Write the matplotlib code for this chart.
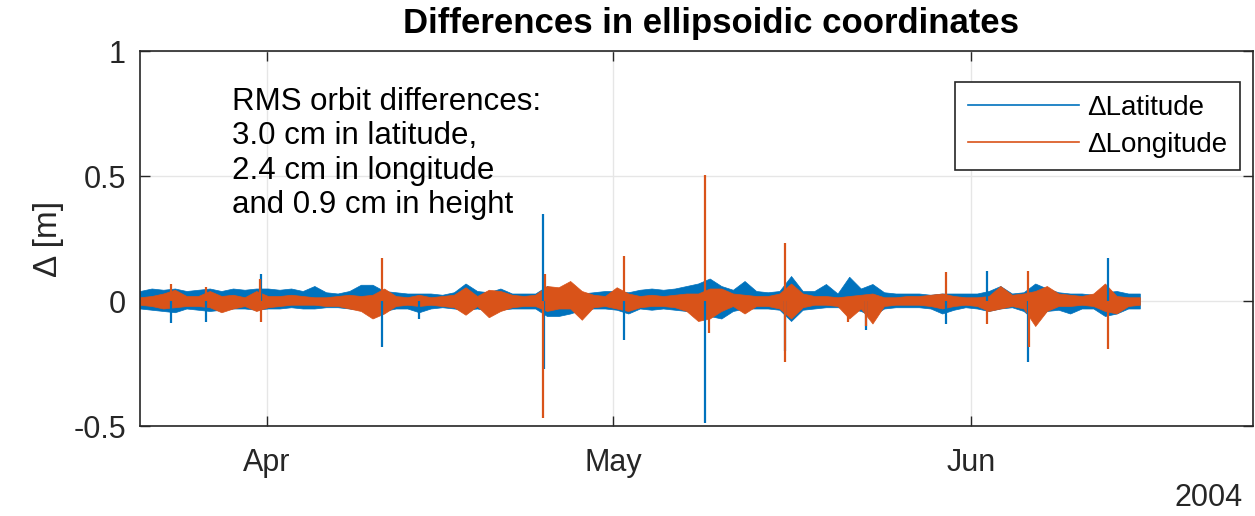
import numpy as np
import matplotlib
matplotlib.use('Agg')
import matplotlib.pyplot as plt
import matplotlib.dates as mdates

plt.rcParams['font.family'] = ['Liberation Sans', 'DejaVu Sans']

# daily envelopes (m), day 0 = 2004-03-21
lat_hi = [0.04, 0.05, 0.045, 0.05, 0.04, 0.045, 0.05, 0.04, 0.05, 0.045,
          0.05, 0.05, 0.045, 0.05, 0.04, 0.06, 0.035, 0.03, 0.04, 0.065,
          0.065, 0.04, 0.035, 0.03, 0.03, 0.03, 0.025, 0.035, 0.07, 0.04,
          0.035, 0.05, 0.03, 0.03, 0.03, 0.06, 0.035, 0.035, 0.03, 0.035,
          0.04, 0.04, 0.035, 0.045, 0.05, 0.045, 0.05, 0.06, 0.07, 0.09,
          0.06, 0.045, 0.08, 0.04, 0.035, 0.04, 0.1, 0.04, 0.04, 0.068,
          0.03, 0.097, 0.05, 0.068, 0.035, 0.03, 0.03, 0.03, 0.025, 0.03,
          0.03, 0.03, 0.03, 0.04, 0.06, 0.03, 0.035, 0.07, 0.05, 0.035,
          0.03, 0.03, 0.025, 0.035, 0.04, 0.03, 0.03]
lat_lo = [-0.03, -0.035, -0.04, -0.045, -0.03, -0.035, -0.04, -0.035, -0.03, -0.03,
          -0.035, -0.03, -0.03, -0.025, -0.03, -0.03, -0.025, -0.025, -0.03, -0.035,
          -0.05, -0.04, -0.03, -0.03, -0.045, -0.03, -0.025, -0.03, -0.035, -0.03,
          -0.04, -0.035, -0.03, -0.03, -0.03, -0.06, -0.06, -0.05, -0.035, -0.03,
          -0.03, -0.035, -0.05, -0.03, -0.035, -0.03, -0.035, -0.04, -0.05, -0.06,
          -0.07, -0.04, -0.03, -0.03, -0.03, -0.035, -0.08, -0.035, -0.03, -0.025,
          -0.025, -0.03, -0.04, -0.06, -0.03, -0.025, -0.025, -0.025, -0.03, -0.05,
          -0.035, -0.025, -0.03, -0.04, -0.03, -0.025, -0.04, -0.08, -0.04, -0.035,
          -0.05, -0.03, -0.03, -0.06, -0.05, -0.03, -0.03]
lon_hi = [0.015, 0.02, 0.03, 0.045, 0.02, 0.02, 0.04, 0.02, 0.025, 0.015,
          0.04, 0.02, 0.02, 0.025, 0.02, 0.015, 0.015, 0.02, 0.025, 0.02,
          0.025, 0.05, 0.02, 0.015, 0.025, 0.015, 0.02, 0.025, 0.055, 0.02,
          0.045, 0.04, 0.025, 0.02, 0.025, 0.06, 0.055, 0.08, 0.04, 0.025,
          0.02, 0.055, 0.03, 0.02, 0.025, 0.02, 0.025, 0.03, 0.03, 0.05,
          0.05, 0.03, 0.025, 0.02, 0.02, 0.03, 0.07, 0.03, 0.02, 0.02,
          0.015, 0.02, 0.025, 0.03, 0.015, 0.015, 0.02, 0.02, 0.025, 0.03,
          0.02, 0.015, 0.015, 0.02, 0.06, 0.025, 0.03, 0.04, 0.06, 0.03,
          0.025, 0.02, 0.03, 0.07, 0.02, 0.015, 0.015]
lon_lo = [-0.015, -0.02, -0.03, -0.025, -0.02, -0.02, -0.025, -0.045, -0.03, -0.02,
          -0.04, -0.025, -0.02, -0.015, -0.015, -0.015, -0.02, -0.02, -0.03, -0.04,
          -0.07, -0.05, -0.02, -0.015, -0.02, -0.015, -0.02, -0.025, -0.055, -0.02,
          -0.065, -0.04, -0.025, -0.02, -0.02, -0.04, -0.03, -0.03, -0.075, -0.025,
          -0.02, -0.03, -0.04, -0.025, -0.02, -0.02, -0.025, -0.04, -0.08, -0.07,
          -0.04, -0.02, -0.05, -0.02, -0.02, -0.03, -0.07, -0.025, -0.015, -0.015,
          -0.02, -0.07, -0.03, -0.09, -0.02, -0.015, -0.015, -0.015, -0.02, -0.03,
          -0.02, -0.015, -0.02, -0.04, -0.03, -0.02, -0.03, -0.1, -0.04, -0.02,
          -0.02, -0.015, -0.02, -0.04, -0.05, -0.02, -0.015]

# short spikes (day, value)
lat_spike_day = [2.7, 5.7, 10.45, 21.0, 24.2, 34.9, 35.0, 41.9, 48.9, 55.9, 62.9, 69.8, 73.4, 76.9, 83.8]
lat_spike_val = [-0.088, -0.083, 0.11, -0.185, -0.07, 0.348, -0.27, -0.156, -0.489, -0.2,
                 -0.116, -0.09, 0.121, -0.243, 0.171]
lon_spike_day = [2.7, 5.7, 10.45, 10.4, 21.0, 34.9, 35.1, 41.9, 48.9, 49.3, 55.9, 55.9,
                 61.3, 62.9, 69.8, 73.4, 76.9, 77.0, 83.8]
lon_spike_val = [0.068, 0.057, -0.083, 0.09, 0.173, -0.469, 0.11, 0.181, 0.504, -0.128,
                 0.233, -0.243, -0.083, -0.1, 0.117, -0.093, 0.12, -0.183, -0.193]

start = np.datetime64('2004-03-21T00:00')
def to_dt(days):
    return start + (np.asarray(days) * 24 * 60).astype('timedelta64[m]')

t = to_dt(np.linspace(0, 86.6, len(lat_hi)))

blue = '#0072BD'
orange = '#D95319'
axc = '#262626'

fig = plt.figure(figsize=(12.55, 5.16), dpi=100)
ax = fig.add_axes([140/1255, 1-426/516, 1113/1255, 375/516])

ax.fill_between(t, lat_lo, lat_hi, color=blue, lw=0.5)
ax.vlines(to_dt(lat_spike_day), 0, lat_spike_val, color=blue, lw=1.6)
ax.fill_between(t, lon_lo, lon_hi, color=orange, lw=0.5)
ax.vlines(to_dt(lon_spike_day), 0, lon_spike_val, color=orange, lw=1.6)

ax.plot([], [], color=blue, lw=1.2, label='ΔLatitude')
ax.plot([], [], color=orange, lw=1.2, label='ΔLongitude')

ax.set_xlim(to_dt(0), to_dt(96.4))
ax.set_ylim(-0.5, 1)
ax.set_yticks([-0.5, 0, 0.5, 1])
ax.set_yticklabels(['-0.5', '0', '0.5', '1'])
ax.xaxis.set_major_locator(mdates.MonthLocator())
ax.xaxis.set_major_formatter(mdates.DateFormatter('%b'))
ax.tick_params(direction='in', length=7, width=1, colors=axc, labelsize=22,
               top=True, right=True)
ax.tick_params(axis='x', pad=16)
ax.tick_params(axis='y', pad=10)
for s in ax.spines.values():
    s.set_color(axc)
    s.set_linewidth(1.2)
ax.grid(True, color='#e6e6e6', lw=1)
ax.set_axisbelow(True)

ax.set_ylabel('Δ [m]', fontsize=24, color=axc, labelpad=7)
fig.text(711/1255, 1-23/516, 'Differences in ellipsoidic coordinates',
         ha='center', va='center', fontsize=25, fontweight='bold')
fig.text(1243/1255, 1-498/516, '2004', ha='right', va='center', fontsize=22, color=axc)
ax.text(92/1113, 0.905,
        'RMS orbit differences:\n3.0 cm in latitude,\n2.4 cm in longitude\nand 0.9 cm in height',
        transform=ax.transAxes, ha='left', va='top', fontsize=22.5, linespacing=1.2)

leg = ax.legend(loc='upper right', bbox_to_anchor=(1100/1113, 344/375), borderaxespad=0,
                fontsize=20, handlelength=4.0, handletextpad=0.3, borderpad=0.45,
                labelspacing=0.4, fancybox=False, framealpha=1, edgecolor=axc)
leg.get_frame().set_linewidth(1.2)

fig.savefig('out.png', dpi=100)
